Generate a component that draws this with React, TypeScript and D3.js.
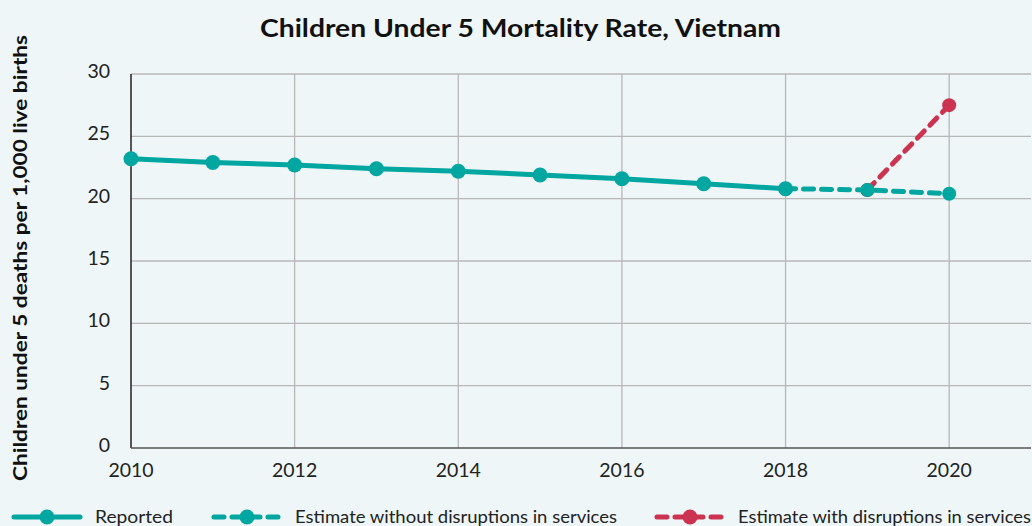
import * as d3 from 'd3';
import React from 'react';

const years = [2010, 2011, 2012, 2013, 2014, 2015, 2016, 2017, 2018];
const reported = [23.2, 22.9, 22.7, 22.4, 22.2, 21.9, 21.6, 21.2, 20.8];
const estYears = [2018, 2019, 2020];
const estNoDisrupt = [20.8, 20.7, 20.4];
const disYears = [2019, 2020];
const estDisrupt = [20.7, 27.5];
const xTicks = [2010, 2012, 2014, 2016, 2018, 2020];
const yTicks = [0, 5, 10, 15, 20, 25, 30];

const W = 1032;
const H = 526;
const TEAL = '#00a6a0';
const RED = '#cc3350';
const FONT = 'Lato, "DejaVu Sans", sans-serif';

const App = () => {
  const x = d3.scaleLinear().domain([2010, 2021]).range([131, 1031]);
  const y = d3.scaleLinear().domain([0, 30]).range([448, 74]);
  const line = d3.line<[number, number]>().x((d) => x(d[0])).y((d) => y(d[1]));

  const repPts = years.map((yr, i) => [yr, reported[i]] as [number, number]);
  const estPts = estYears.map((yr, i) => [yr, estNoDisrupt[i]] as [number, number]);
  const disPts = disYears.map((yr, i) => [yr, estDisrupt[i]] as [number, number]);

  const legend = [
    { x0: 12, label: 'Reported', color: TEAL, dash: null, len: 78 },
    { x0: 212, label: 'Estimate without disruptions in services', color: TEAL, dash: '10 8', len: 322 },
    { x0: 655, label: 'Estimate with disruptions in services', color: RED, dash: '10 8', len: 293 },
  ];

  return (
    <svg width={W} height={H} style={{ position: 'absolute', left: 0, top: 0, background: '#eef6f7' }}>
      <text
        x={260}
        y={37}
        textLength={521}
        lengthAdjust="spacingAndGlyphs"
        fontFamily={FONT}
        fontWeight="bold"
        fontSize={24}
        fill="#111"
      >
        Children Under 5 Mortality Rate, Vietnam
      </text>
      <text
        transform={`translate(27, 481) rotate(-90)`}
        textLength={446}
        lengthAdjust="spacingAndGlyphs"
        fontFamily={FONT}
        fontWeight="bold"
        fontSize={18}
        fill="#111"
      >
        Children under 5 deaths per 1,000 live births
      </text>

      {yTicks.map((t) => (
        <g key={`y${t}`}>
          {t > 0 && <line x1={131} x2={1031} y1={y(t)} y2={y(t)} stroke="#b8b8b8" strokeWidth={1.3} />}
          <text x={110} y={y(t) + 4} textAnchor="end" fontFamily={FONT} fontSize={19.5} fill="#222">
            {t}
          </text>
        </g>
      ))}
      {xTicks.map((t) => (
        <g key={`x${t}`}>
          {t > 2010 && <line x1={x(t)} x2={x(t)} y1={74} y2={448} stroke="#b8b8b8" strokeWidth={1.3} />}
          <text x={x(t)} y={477} textAnchor="middle" fontFamily={FONT} fontSize={19.5} fill="#222">
            {t}
          </text>
        </g>
      ))}
      <line x1={131} x2={131} y1={74} y2={448} stroke="#222" strokeWidth={1.5} />
      <line x1={131} x2={1031} y1={448} y2={448} stroke="#555" strokeWidth={1.5} />

      <path d={line(disPts) || ''} fill="none" stroke={RED} strokeWidth={5} strokeDasharray="10 8" strokeLinecap="round" />
      {disPts.map((p, i) => (
        <circle key={`d${i}`} cx={x(p[0])} cy={y(p[1])} r={7} fill={RED} />
      ))}
      <path d={line(estPts) || ''} fill="none" stroke={TEAL} strokeWidth={5} strokeDasharray="10 8" strokeLinecap="round" />
      {estPts.map((p, i) => (
        <circle key={`e${i}`} cx={x(p[0])} cy={y(p[1])} r={7} fill={TEAL} />
      ))}
      <path d={line(repPts) || ''} fill="none" stroke={TEAL} strokeWidth={5} />
      {repPts.map((p, i) => (
        <circle key={`r${i}`} cx={x(p[0])} cy={y(p[1])} r={7.5} fill={TEAL} />
      ))}

      {legend.map((l) => (
        <g key={l.label}>
          <line
            x1={l.x0 + 2}
            x2={l.x0 + 68}
            y1={517}
            y2={517}
            stroke={l.color}
            strokeWidth={5}
            strokeDasharray={l.dash || undefined}
            strokeLinecap="round"
          />
          <circle cx={l.x0 + 35} cy={517} r={7.5} fill={l.color} />
          <text
            x={l.x0 + 83}
            y={523}
            textLength={l.len}
            lengthAdjust="spacingAndGlyphs"
            fontFamily={FONT}
            fontSize={18}
            fill="#222"
          >
            {l.label}
          </text>
        </g>
      ))}
    </svg>
  );
};

export default App;
